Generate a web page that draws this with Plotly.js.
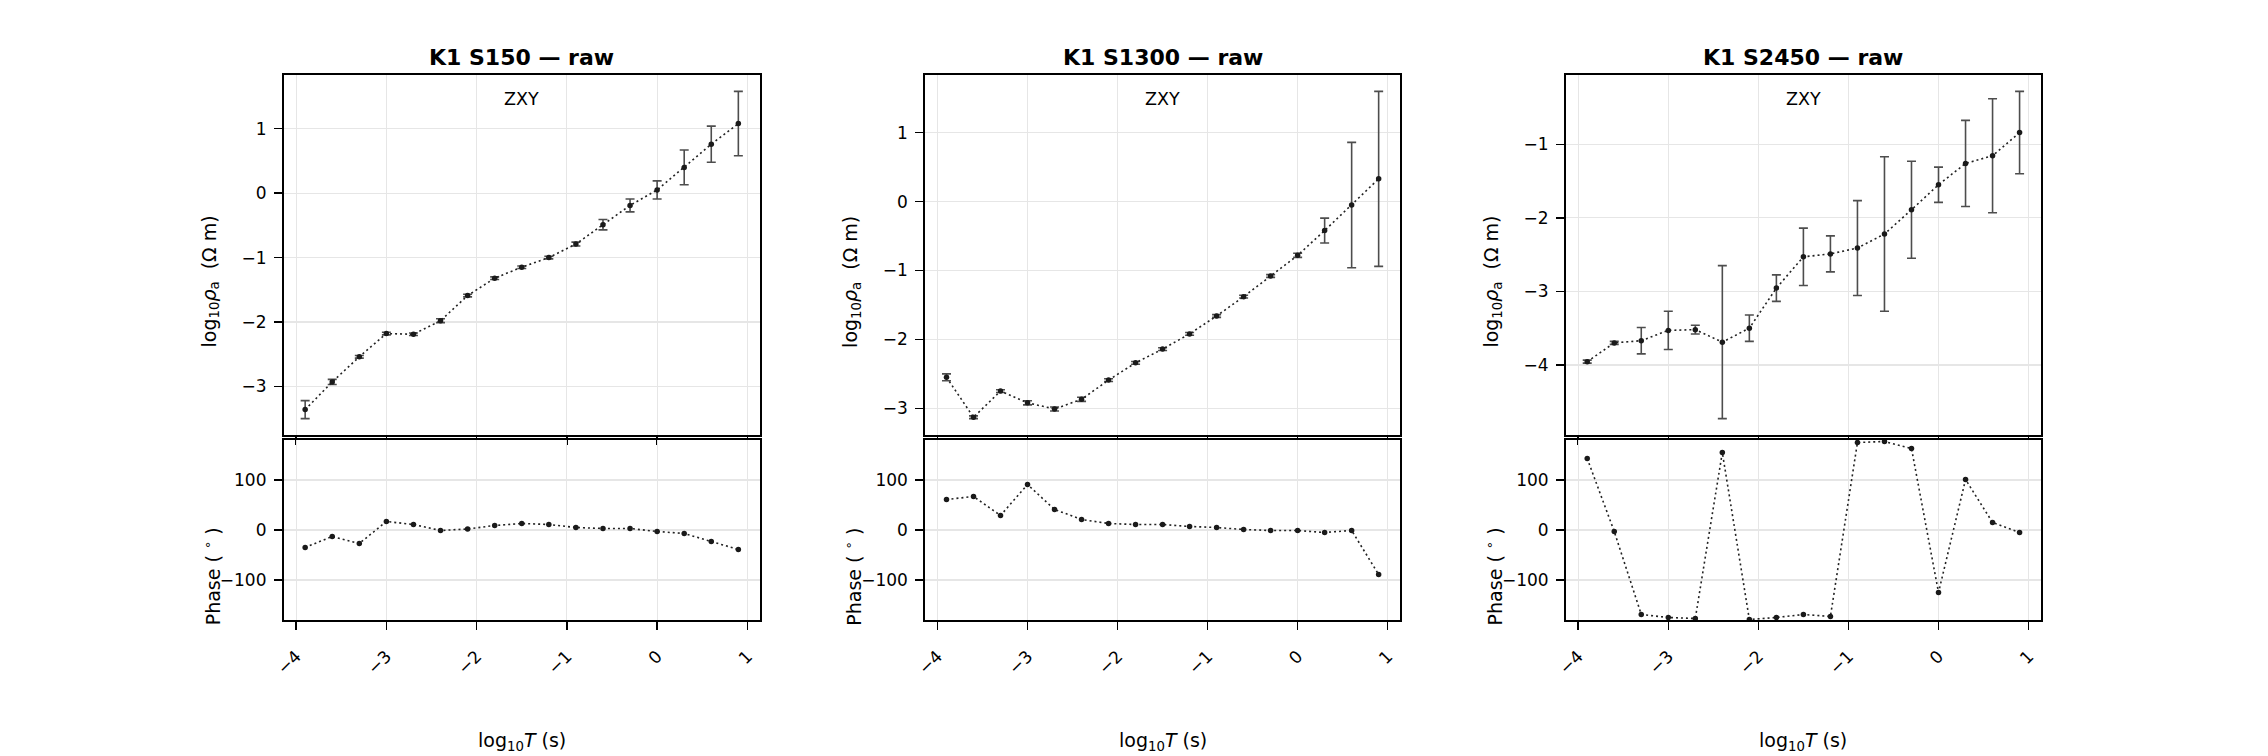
<!DOCTYPE html>
<html>
<head>
<meta charset="utf-8">
<script src="https://cdn.plot.ly/plotly-3.0.1.min.js"></script>
<style>
  html, body { margin: 0; padding: 0; background: #fff; }
  #plot { width: 2268px; height: 756px; }
</style>
</head>
<body>
<div id="plot"></div>
<script>
// log10 of period, same for every site
const logPeriods = [-3.9, -3.6, -3.3, -3.0, -2.7, -2.4, -2.1, -1.8, -1.5, -1.2, -0.9, -0.6, -0.3, 0.0, 0.3, 0.6, 0.9];

const siteNames = ['K1 S150', 'K1 S1300', 'K1 S2450'];
const componentName = 'ZXY';

const s150Rho   = [-3.36, -2.93, -2.54, -2.18, -2.19, -1.98, -1.59, -1.32, -1.15, -1.00, -0.79, -0.49, -0.19, 0.05, 0.40, 0.76, 1.08];
const s150Err   = [0.14, 0.04, 0.02, 0.02, 0.02, 0.03, 0.02, 0.02, 0.02, 0.02, 0.03, 0.08, 0.10, 0.14, 0.27, 0.28, 0.50];
const s150Phase = [-35, -13, -27, 17, 11, -1, 2, 9, 13, 11, 5, 3, 3, -3, -7, -23, -39];

const s1300Rho   = [-2.55, -3.13, -2.75, -2.92, -3.01, -2.87, -2.59, -2.34, -2.14, -1.92, -1.66, -1.38, -1.08, -0.78, -0.42, -0.05, 0.33];
const s1300Err   = [0.05, 0.02, 0.02, 0.03, 0.03, 0.03, 0.02, 0.02, 0.02, 0.02, 0.02, 0.02, 0.02, 0.03, 0.18, 0.91, 1.27];
const s1300Phase = [61, 67, 29, 91, 41, 21, 13, 11, 11, 7, 5, 1, -1, -1, -5, -1, -89];

const s2450Rho   = [-3.955, -3.70, -3.67, -3.53, -3.52, -3.69, -3.50, -2.955, -2.53, -2.49, -2.41, -2.22, -1.89, -1.55, -1.26, -1.155, -0.84];
const s2450Err   = [0.02, 0.02, 0.18, 0.26, 0.06, 1.04, 0.18, 0.18, 0.39, 0.245, 0.645, 1.05, 0.66, 0.24, 0.585, 0.775, 0.56];
const s2450Phase = [143, -3, -169, -175, -177, 155, -179, -175, -169, -173, 175, 177, 163, -125, 101, 15, -5];

const rhoSeries   = [s150Rho, s1300Rho, s2450Rho];
const errSeries   = [s150Err, s1300Err, s2450Err];
const phaseSeries = [s150Phase, s1300Phase, s2450Phase];

const rhoTicks   = [[-3, -2, -1, 0, 1], [-3, -2, -1, 0, 1], [-4, -3, -2, -1]];
const phaseTicks = [-100, 0, 100];
const periodTicks = [-4, -3, -2, -1, 0, 1];

// layout geometry (paper fractions)
const colDomains = [[0.125, 0.3351], [0.4078, 0.6174], [0.6903, 0.9]];
const topDomain = [0.4246, 0.9008];
const botDomain = [0.1799, 0.418];

const FONT = 'DejaVu Sans, sans-serif';
const TICK_SIZE = 17;
const LABEL_SIZE = 19;

function rhoRange(rho, err) {
    let lo = Infinity, hi = -Infinity;
    rho.forEach((v, i) => {
        lo = Math.min(lo, v - err[i]);
        hi = Math.max(hi, v + err[i]);
    });
    const pad = (hi - lo) * 0.05;
    return [lo - pad, hi + pad];
}

const traces = [];
const layout = {
    width: 2268,
    height: 756,
    margin: { l: 0, r: 0, t: 0, b: 0 },
    paper_bgcolor: '#ffffff',
    plot_bgcolor: '#ffffff',
    showlegend: false,
    font: { family: FONT, size: TICK_SIZE, color: '#000' },
    annotations: []
};

function axisBase() {
    return {
        showline: true,
        mirror: true,
        linecolor: '#000',
        linewidth: 1.6,
        ticks: 'outside',
        ticklen: 8,
        tickwidth: 1.5,
        tickcolor: '#000',
        showgrid: true,
        gridcolor: '#e6e6e6',
        gridwidth: 1.2,
        zeroline: false,
        tickfont: { family: FONT, size: TICK_SIZE, color: '#000' }
    };
}

siteNames.forEach((name, k) => {
    const top = 2 * k + 1;
    const bot = 2 * k + 2;
    const xt = 'x' + (top === 1 ? '' : top), yt = 'y' + (top === 1 ? '' : top);
    const xb = 'x' + bot, yb = 'y' + bot;

    traces.push({
        x: logPeriods,
        y: rhoSeries[k],
        xaxis: xt, yaxis: yt,
        type: 'scatter',
        mode: 'lines+markers',
        line: { color: '#222222', width: 1.6, dash: '2px,3px' },
        marker: { color: '#1a1a1a', size: 5.5 },
        error_y: { type: 'data', array: errSeries[k], visible: true, color: '#4d4d4d', thickness: 1.6, width: 4.5 }
    });
    traces.push({
        x: logPeriods,
        y: phaseSeries[k],
        xaxis: xb, yaxis: yb,
        type: 'scatter',
        mode: 'lines+markers',
        line: { color: '#222222', width: 1.6, dash: '2px,3px' },
        marker: { color: '#1a1a1a', size: 5.5 }
    });

    const xTop = Object.assign(axisBase(), {
        domain: colDomains[k], anchor: yt, range: [-4.14, 1.14],
        tickvals: periodTicks, showticklabels: false
    });
    const xBot = Object.assign(axisBase(), {
        domain: colDomains[k], anchor: yb, range: [-4.14, 1.14],
        tickvals: periodTicks, ticktext: periodTicks.map(v => v < 0 ? '\u2212' + (-v) : String(v)),
        tickangle: -45, ticklabelstandoff: 10
    });
    const yTop = Object.assign(axisBase(), {
        domain: topDomain, anchor: xt, range: rhoRange(rhoSeries[k], errSeries[k]),
        tickvals: rhoTicks[k], ticklabelstandoff: 4
    });
    const yBot = Object.assign(axisBase(), {
        domain: botDomain, anchor: xb, range: [-180, 180],
        tickvals: phaseTicks, ticklabelstandoff: 4
    });

    layout['xaxis' + (top === 1 ? '' : top)] = xTop;
    layout['yaxis' + (top === 1 ? '' : top)] = yTop;
    layout['xaxis' + bot] = xBot;
    layout['yaxis' + bot] = yBot;

    // panel title
    layout.annotations.push({
        text: '<b>' + name + ' \u2014 raw</b>',
        xref: xt + ' domain', yref: yt + ' domain',
        x: 0.5, y: 1, yshift: 17, xanchor: 'center', yanchor: 'middle',
        showarrow: false, font: { family: FONT, size: 22, color: '#000' }
    });
    // component label
    layout.annotations.push({
        text: componentName,
        xref: xt + ' domain', yref: yt + ' domain',
        x: 0.5, y: 1, yshift: -24, xanchor: 'center', yanchor: 'middle',
        showarrow: false, font: { family: FONT, size: 17.5, color: '#000' }
    });
    // y labels
    layout.annotations.push({
        text: 'log<sub>10</sub><i>\u03c1</i><sub>a</sub>  (\u03a9 m)',
        xref: xt + ' domain', yref: yt + ' domain',
        x: 0, xshift: -73, y: 0.425, textangle: -90,
        xanchor: 'center', yanchor: 'middle',
        showarrow: false, font: { family: FONT, size: LABEL_SIZE, color: '#000' }
    });
    layout.annotations.push({
        text: 'Phase ( <sup>\u2218</sup> )',
        xref: xb + ' domain', yref: yb + ' domain',
        x: 0, xshift: -72, y: 0.24, textangle: -90,
        xanchor: 'center', yanchor: 'middle',
        showarrow: false, font: { family: FONT, size: LABEL_SIZE, color: '#000' }
    });
    // x label
    layout.annotations.push({
        text: 'log<sub>10</sub><i>T</i> (s)',
        xref: xb + ' domain', yref: 'paper',
        x: 0.5, y: 1 - 741 / 756, xanchor: 'center', yanchor: 'middle',
        showarrow: false, font: { family: FONT, size: LABEL_SIZE, color: '#000' }
    });
});

Plotly.newPlot('plot', traces, layout, { staticPlot: true, displayModeBar: false });
</script>
</body>
</html>
